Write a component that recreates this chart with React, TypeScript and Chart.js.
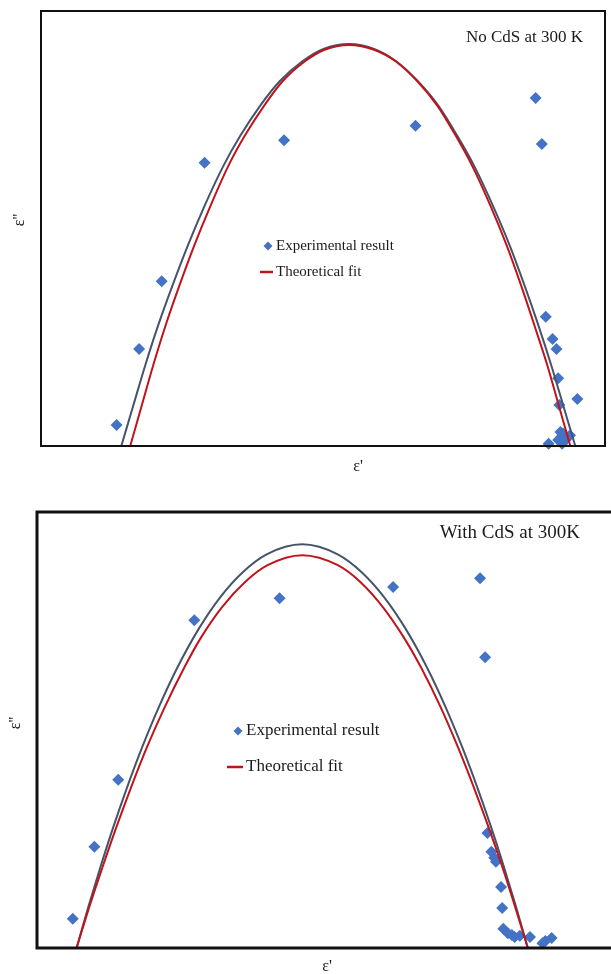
import React, { useEffect, useRef } from "react";
import { Chart, registerables } from "chart.js";

Chart.register(...registerables);

// ---------- Chart 1: No CdS at 300 K (normalised ε', ε'') ----------
const topExpX = [13.4, 17.4, 21.4, 29.0, 43.1, 66.4, 87.7, 88.8, 89.5, 90.7, 91.4, 91.7, 95.1, 91.9, 92.1, 92.6, 93.8, 91.7, 92.3, 90.0, 92.4, 93.0];
const topExpY = [4.8, 22.3, 37.9, 65.1, 70.3, 73.6, 80.0, 69.4, 29.7, 24.6, 22.3, 15.6, 10.8, 9.4, 3.2, 2.8, 2.5, 1.4, 2.1, 0.5, 0.5, 1.4];

const topFitAX = [14.24, 16.34, 18.45, 20.74, 23.29, 26.01, 29.0, 32.34, 35.33, 38.84, 42.36, 46.4, 50.09, 54.66, 59.05, 62.92, 66.78, 70.47, 73.81, 76.8, 80.14, 83.13, 85.76, 88.22, 90.51, 92.62, 94.73];
const topFitAY = [0, 9.2, 18.4, 27.6, 36.8, 46.0, 55.2, 64.4, 71.3, 78.2, 83.9, 88.5, 91.3, 92.4, 91.3, 88.5, 83.9, 78.2, 71.3, 64.4, 55.2, 46.0, 36.8, 27.6, 18.4, 9.2, 0];

const topFitBX = [15.82, 17.84, 19.86, 22.06, 24.52, 27.15, 30.05, 33.22, 36.12, 39.54, 42.88, 46.75, 50.26, 54.66, 59.05, 62.92, 66.7, 70.3, 73.55, 76.45, 79.7, 82.6, 85.15, 87.52, 89.81, 91.83, 93.85];
const topFitBY = [0, 9.2, 18.4, 27.6, 36.8, 46.0, 55.2, 64.4, 71.3, 78.2, 83.9, 88.4, 91.1, 92.2, 91.1, 88.4, 83.9, 78.2, 71.3, 64.4, 55.2, 46.0, 36.8, 27.6, 18.4, 9.2, 0];

// ---------- Chart 2: With CdS at 300K ----------
const botExpX = [6.3, 10.1, 14.3, 27.7, 42.7, 62.7, 78.0, 78.9, 79.3, 80.0, 80.5, 80.8, 81.7, 81.9, 82.1, 82.9, 83.6, 84.1, 85.0, 86.8, 89.0, 89.5, 90.6];
const botExpY = [6.7, 23.2, 38.6, 75.2, 80.2, 82.8, 84.8, 66.7, 26.4, 22.1, 20.7, 19.8, 14.0, 9.2, 4.4, 3.4, 3.0, 2.5, 2.8, 2.5, 1.1, 1.6, 2.3];

const botFitAX = [6.97, 8.99, 11.13, 13.4, 15.85, 18.5, 21.43, 24.74, 28.66, 32.28, 36.22, 40.43, 46.69, 52.94, 57.16, 61.1, 64.72, 68.64, 71.95, 74.88, 77.53, 79.98, 82.25, 84.39, 86.41];
const botFitAY = [0, 9.2, 18.4, 27.6, 36.8, 46.0, 55.2, 64.4, 73.6, 80.5, 86.2, 90.3, 92.6, 90.3, 86.2, 80.5, 73.6, 64.4, 55.2, 46.0, 36.8, 27.6, 18.4, 9.2, 0];

const botFitBX = [6.97, 9.15, 11.5, 13.94, 16.55, 19.34, 22.47, 25.96, 28.92, 32.58, 36.59, 40.59, 46.69, 52.96, 56.97, 60.89, 64.55, 67.6, 71.08, 74.13, 76.92, 79.53, 81.97, 84.23, 86.41];
const botFitBY = [0, 9.2, 18.4, 27.6, 36.8, 46.0, 55.2, 64.4, 71.3, 78.2, 83.9, 87.8, 90.1, 87.8, 83.9, 78.2, 71.3, 64.4, 55.2, 46.0, 36.8, 27.6, 18.4, 9.2, 0];

const legendLabels = ["Experimental result", "Theoretical fit"];
const xLabel = "ε'";
const yLabel = "ε''";

const MARKER = "#4472C4";
const FIT_DARK = "#44546A";
const FIT_RED = "#C0141C";
const SERIF = "'Liberation Serif', 'Times New Roman', serif";

const zip = (xs: number[], ys: number[]) => xs.map((x, i) => ({ x, y: ys[i] }));

type Overlay = {
  title: string;
  titleSize: number;
  titleDx: number;
  titleDy: number;
  legSize: number;
  legX: number;
  legY1: number;
  legY2: number;
  lineLen: number;
  frameW: number;
  rightBorder: boolean;
  xLabY: number;
  xLabX: number;
  yLabX: number;
  yLabY: number;
  labSize: number;
};

function makeOverlay(o: Overlay) {
  return {
    id: "overlay",
    afterDraw(chart: any) {
      const ctx = chart.ctx as CanvasRenderingContext2D;
      const a = chart.chartArea;
      ctx.save();
      ctx.strokeStyle = "#111";
      ctx.lineWidth = o.frameW;
      ctx.beginPath();
      if (o.rightBorder) {
        ctx.rect(a.left, a.top, a.right - a.left, a.bottom - a.top);
      } else {
        ctx.moveTo(chart.width + 5, a.top);
        ctx.lineTo(a.left, a.top);
        ctx.lineTo(a.left, a.bottom);
        ctx.lineTo(chart.width + 5, a.bottom);
      }
      ctx.stroke();

      ctx.fillStyle = "#1a1a1a";
      ctx.textBaseline = "middle";
      ctx.font = `${o.titleSize}px ${SERIF}`;
      ctx.textAlign = "right";
      ctx.fillText(o.title, a.right - o.titleDx, a.top + o.titleDy);

      ctx.font = `${o.legSize}px ${SERIF}`;
      ctx.textAlign = "left";
      const tx = a.left + o.legX;
      const y1 = a.top + o.legY1;
      const y2 = a.top + o.legY2;
      ctx.fillText(legendLabels[0], tx, y1);
      ctx.fillText(legendLabels[1], tx, y2);
      const r = 4.5;
      const cx = tx - 8;
      ctx.fillStyle = MARKER;
      ctx.beginPath();
      ctx.moveTo(cx, y1 - r);
      ctx.lineTo(cx + r, y1);
      ctx.lineTo(cx, y1 + r);
      ctx.lineTo(cx - r, y1);
      ctx.closePath();
      ctx.fill();
      ctx.strokeStyle = FIT_RED;
      ctx.lineWidth = 2.5;
      ctx.beginPath();
      ctx.moveTo(tx - 3 - o.lineLen, y2);
      ctx.lineTo(tx - 3, y2);
      ctx.stroke();

      ctx.fillStyle = "#1a1a1a";
      ctx.font = `${o.labSize}px ${SERIF}`;
      ctx.textAlign = "center";
      ctx.fillText(xLabel, a.left + o.xLabX, a.bottom + o.xLabY);
      ctx.save();
      ctx.translate(o.yLabX, a.top + o.yLabY);
      ctx.rotate(-Math.PI / 2);
      ctx.fillText(yLabel, 0, 0);
      ctx.restore();
      ctx.restore();
    },
  };
}

function buildConfig(
  expX: number[], expY: number[],
  aX: number[], aY: number[],
  bX: number[], bY: number[],
  padding: any, radius: number, overlay: Overlay
): any {
  const fit = (data: any, color: string) => ({
    data,
    showLine: true,
    borderColor: color,
    borderWidth: 2,
    pointRadius: 0,
    cubicInterpolationMode: "monotone",
    fill: false,
  });
  return {
    type: "scatter",
    data: {
      datasets: [
        { label: "Theoretical fit", ...fit(zip(bX, bY), FIT_RED) },
        { label: "Fit (alt)", ...fit(zip(aX, aY), FIT_DARK) },
        {
          label: "Experimental result",
          data: zip(expX, expY),
          pointStyle: "rectRot",
          pointRadius: radius,
          pointBackgroundColor: MARKER,
          pointBorderWidth: 0,
          borderWidth: 0,
          showLine: false,
          clip: false,
        },
      ],
    },
    options: {
      responsive: false,
      animation: false,
      devicePixelRatio: 1,
      layout: { padding },
      plugins: { legend: { display: false }, tooltip: { enabled: false } },
      scales: {
        x: { type: "linear", min: 0, max: 100, display: false },
        y: { type: "linear", min: 0, max: 100, display: false },
      },
    },
    plugins: [makeOverlay(overlay)],
  };
}

export default function App() {
  const ref1 = useRef<HTMLCanvasElement>(null);
  const ref2 = useRef<HTMLCanvasElement>(null);

  useEffect(() => {
    const c1 = new Chart(
      ref1.current!,
      buildConfig(
        topExpX, topExpY, topFitAX, topFitAY, topFitBX, topFitBY,
        { left: 41, top: 11, right: 1, bottom: 34 }, 6,
        {
          title: "No CdS at 300 K", titleSize: 17, titleDx: 22, titleDy: 27,
          legSize: 15, legX: 235, legY1: 235, legY2: 261, lineLen: 13,
          frameW: 2, rightBorder: true,
          xLabY: 21, xLabX: 317, yLabX: 20, yLabY: 209, labSize: 16,
        }
      )
    );
    const c2 = new Chart(
      ref2.current!,
      buildConfig(
        botExpX, botExpY, botFitAX, botFitAY, botFitBX, botFitBY,
        { left: 37, top: 22, right: 0, bottom: 26 }, 6,
        {
          title: "With CdS at 300K", titleSize: 19, titleDx: 25, titleDy: 21,
          legSize: 17, legX: 209, legY1: 219, legY2: 255, lineLen: 16,
          frameW: 3, rightBorder: false,
          xLabY: 19, xLabX: 290, yLabX: 16, yLabY: 211, labSize: 16,
        }
      )
    );
    return () => {
      c1.destroy();
      c2.destroy();
    };
  }, []);

  return (
    <div style={{ position: "absolute", left: 0, top: 0, width: 611, height: 974, overflow: "hidden", background: "#fff" }}>
      <canvas ref={ref1} width={611} height={480} style={{ position: "absolute", left: 0, top: 0 }} />
      <canvas ref={ref2} width={611} height={484} style={{ position: "absolute", left: 0, top: 490 }} />
    </div>
  );
}
